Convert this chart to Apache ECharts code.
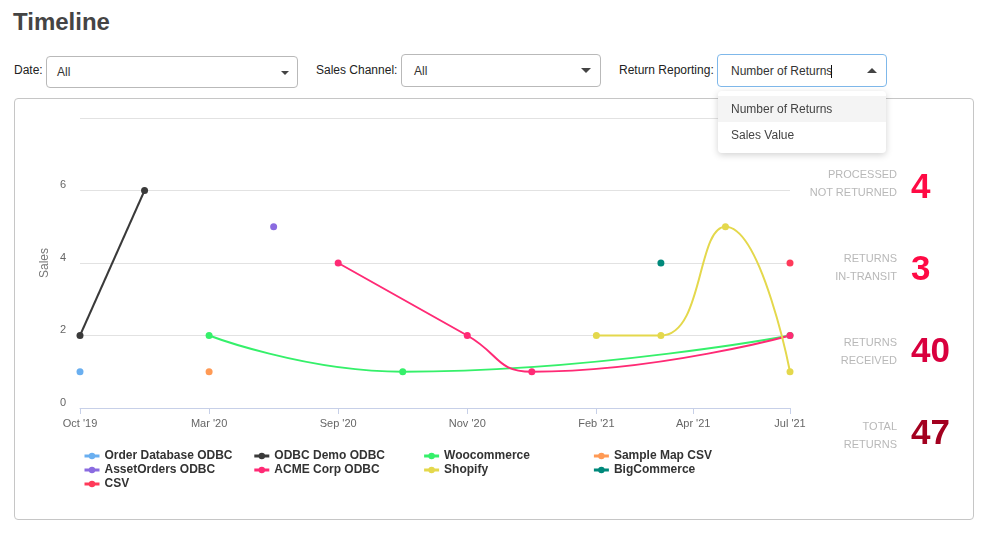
<!DOCTYPE html>
<html>
<head>
<meta charset="utf-8">
<script src="https://cdn.jsdelivr.net/npm/echarts@6/dist/echarts.min.js"></script>
<style>
  html, body { margin:0; padding:0; width:984px; height:535px; background:#fff; overflow:hidden;
    font-family:"Liberation Sans", Arial, Helvetica, sans-serif; }
  .abs { position:absolute; }
  #title { left:13px; top:10px; font-size:24px; line-height:24px; font-weight:bold; color:#444; }
  .lbl { font-size:12px; line-height:16px; color:#222; white-space:nowrap; }
  .sel { box-sizing:border-box; border:1px solid #b9b9b9; border-radius:4px; background:#fff;
    font-size:12px; color:#333; }
  .sel span { position:absolute; top:50%; transform:translateY(-50%); white-space:nowrap; }
  .caret { position:absolute; width:0; height:0; border-left:5px solid transparent; border-right:5px solid transparent; }
  .down { border-top:5px solid #444; }
  .up { border-bottom:5px solid #444; }
  #box { left:14px; top:98px; width:960px; height:422px; box-sizing:border-box; border:1px solid #c6c6c6; border-radius:4px; }
  #chart { left:0; top:0; width:984px; height:535px; z-index:2; }
  #menu { left:718px; top:91px; width:168px; height:62px; background:#fff; border-radius:4px;
    box-shadow:0 2px 7px rgba(0,0,0,0.18); z-index:5; font-size:12px; color:#444; }
  .opt { position:absolute; left:0; width:168px; height:26px; line-height:26px; box-sizing:border-box; padding-left:13px; white-space:nowrap; }
  .kpil { width:160px; left:737px; text-align:right; font-size:11px; line-height:18px; color:#b8b8b8; z-index:3; }
  .kpin { left:911px; font-size:35px; line-height:40px; font-weight:bold; z-index:3; }
</style>
</head>
<body>
<div id="box" class="abs"></div>
<div id="chart" class="abs"></div>

<div id="title" class="abs">Timeline</div>

<div class="abs lbl" style="left:14px;top:62px;">Date:</div>
<div class="abs sel" style="left:46px;top:56px;width:252px;height:32px;">
  <span style="left:10px;">All</span>
  <div class="caret down" style="left:234px;top:14px;border-left-width:4px;border-right-width:4px;border-top-width:4px;"></div>
</div>

<div class="abs lbl" style="left:316px;top:62px;">Sales Channel:</div>
<div class="abs sel" style="left:401px;top:54px;width:200px;height:33px;">
  <span style="left:12px;">All</span>
  <div class="caret down" style="left:179px;top:13px;"></div>
</div>

<div class="abs lbl" style="left:619px;top:62px;">Return Reporting:</div>
<div class="abs sel" style="left:717px;top:54px;width:170px;height:33px;border-color:#7fb8ea;z-index:5;">
  <span style="left:13px;">Number of Returns</span>
  <div style="position:absolute;left:113px;top:10px;width:1px;height:13px;background:#111;"></div>
  <div class="caret up" style="left:149px;top:13px;"></div>
</div>

<div id="menu" class="abs">
  <div class="opt" style="top:5px;background:#f4f4f4;">Number of Returns</div>
  <div class="opt" style="top:31px;">Sales Value</div>
</div>

<div id="kpis"></div>

<script>
// ---- data ----
const xTickValues = [0, 2, 4, 6, 8, 9.5, 11];
const xTickLabels = ["Oct '19", "Mar '20", "Sep '20", "Nov '20", "Feb '21", "Apr '21", "Jul '21"];
const yTickMax = 8;

const seriesNames = ["Order Database ODBC", "ODBC Demo ODBC", "Woocommerce", "Sample Map CSV",
  "AssetOrders ODBC", "ACME Corp ODBC", "Shopify", "BigCommerce", "CSV"];
const seriesColors = ["#6aaff0", "#3a3a3a", "#35f06a", "#ff9a55", "#8a6be0", "#ff2a75", "#e4d84c", "#00897b", "#ff3a5a"];

// values per period (12 periods, index = period position on the axis)
const orderDatabaseOdbc = [1, null, null, null, null, null, null, null, null, null, null, null];
const odbcDemoOdbc      = [2, 6, null, null, null, null, null, null, null, null, null, null];
const woocommerce       = [null, null, 2, null, null, 1, null, null, null, null, null, 2];
const sampleMapCsv      = [null, null, 1, null, null, null, null, null, null, null, null, null];
const assetOrdersOdbc   = [null, null, null, 5, null, null, null, null, null, null, null, null];
const acmeCorpOdbc      = [null, null, null, null, 4, null, 2, 1, null, null, null, 2];
const shopify           = [null, null, null, null, null, null, null, null, 2, 2, 5, 1];
const bigCommerce       = [null, null, null, null, null, null, null, null, null, 4, null, null];
const csv               = [null, null, null, null, null, null, null, null, null, null, null, 4];

const kpiLabels = [["PROCESSED", "NOT RETURNED"], ["RETURNS", "IN-TRANSIT"], ["RETURNS", "RECEIVED"], ["TOTAL", "RETURNS"]];
const kpiValues = [4, 3, 40, 47];
const kpiColors = ["#ff0a44", "#ff0a44", "#d9003e", "#a3001f"];

// ---- KPI panel ----
const kpiLabelTops = [165, 249, 333, 417];
const kpiNumTops = [166, 248, 330, 412];
const kpiHost = document.getElementById('kpis');
kpiLabels.forEach((l, i) => {
  const d = document.createElement('div');
  d.className = 'abs kpil';
  d.style.top = kpiLabelTops[i] + 'px';
  d.innerHTML = l[0] + '<br>' + l[1];
  kpiHost.appendChild(d);
  const n = document.createElement('div');
  n.className = 'abs kpin';
  n.style.top = kpiNumTops[i] + 'px';
  n.style.color = kpiColors[i];
  n.textContent = kpiValues[i];
  kpiHost.appendChild(n);
});

// ---- chart ----
const allValues = [orderDatabaseOdbc, odbcDemoOdbc, woocommerce, sampleMapCsv, assetOrdersOdbc,
  acmeCorpOdbc, shopify, bigCommerce, csv];
const FONT = '"Liberation Sans", Arial, Helvetica, sans-serif';

const chart = echarts.init(document.getElementById('chart'));
chart.setOption({
  animation: false,
  backgroundColor: 'transparent',
  textStyle: { fontFamily: FONT },
  grid: { left: 80, right: 194, top: 118, bottom: 127, containLabel: false },
  legend: {
    left: 78, top: 445, width: 700,
    itemWidth: 15, itemHeight: 8, itemGap: 2,
    lineStyle: { width: 3 },
    data: seriesNames,
    textStyle: { fontSize: 12, fontWeight: 'bold', color: '#333', width: 146.3, lineHeight: 12, fontFamily: FONT }
  },
  xAxis: {
    type: 'value', min: 0, max: 11,
    splitLine: { show: false },
    axisLine: { show: true, lineStyle: { color: '#c7d0e8', width: 1 } },
    axisTick: { show: true, customValues: xTickValues, length: 6, lineStyle: { color: '#c7d0e8' } },
    axisLabel: {
      customValues: xTickValues,
      formatter: v => { const k = xTickValues.indexOf(v); return k >= 0 ? xTickLabels[k] : ''; },
      color: '#666', fontSize: 11, margin: 10, fontFamily: FONT
    }
  },
  yAxis: {
    type: 'value', min: 0, max: yTickMax, interval: 2,
    name: 'Sales', nameLocation: 'middle', nameGap: 29, nameMoveOverlap: false,
    nameTextStyle: { color: '#777', fontSize: 12, fontFamily: FONT },
    axisLine: { show: false }, axisTick: { show: false },
    splitLine: { lineStyle: { color: '#e2e2e2' } },
    axisLabel: { formatter: v => v === yTickMax ? '' : String(v), color: '#666', fontSize: 11,
      margin: 14, verticalAlign: 'bottom', fontFamily: FONT }
  },
  series: seriesNames.map((name, i) => ({
    name, type: 'line',
    data: allValues[i].map((v, k) => v == null ? null : [k, v]).filter(p => p),
    smooth: 0.5,
    symbol: 'circle', symbolSize: 7, showSymbol: true,
    lineStyle: { width: 2, color: seriesColors[i] },
    itemStyle: { color: seriesColors[i] },
    emphasis: { disabled: true }
  }))
});
</script>
</body>
</html>
